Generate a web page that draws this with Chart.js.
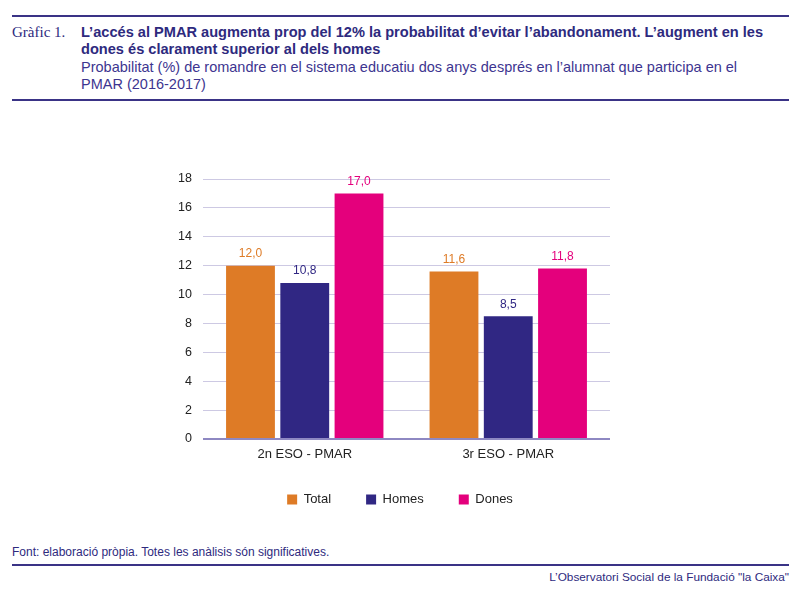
<!DOCTYPE html>
<html>
<head>
<meta charset="utf-8">
<script src="https://cdn.jsdelivr.net/npm/chart.js@4"></script>
<style>
  body { margin: 0; background: #fff; width: 800px; height: 591px; overflow: hidden; position: relative; font-family: "Liberation Sans", Arial, sans-serif; }
  .rule { position: absolute; left: 12px; width: 777px; height: 2px; background: #3a3386; }
  .txt { position: absolute; white-space: nowrap; color: #2e2a7e; }
  #box { position: absolute; left: 0; top: 110px; width: 800px; height: 406px; }
</style>
</head>
<body>
<div class="rule" style="top:15px"></div>
<div class="txt" style="left:12px; top:24px; font-family:'Liberation Serif',serif; font-size:15px;">Gràfic 1.</div>
<div class="txt" style="left:81px; top:24px; font-size:14.6px; font-weight:bold; line-height:17px;">L’accés al PMAR augmenta prop del 12% la probabilitat d’evitar l’abandonament. L’augment en les<br>dones és clarament superior al dels homes</div>
<div class="txt" style="left:81px; top:59px; font-size:14.5px; line-height:17px; color:#3d3590;">Probabilitat (%) de romandre en el sistema educatiu dos anys després en l’alumnat que participa en el<br>PMAR (2016-2017)</div>
<div class="rule" style="top:99px"></div>

<div id="box"><canvas id="chart"></canvas></div>

<div class="txt" style="left:12px; top:545px; font-size:12px;">Font: elaboració pròpia. Totes les anàlisis són significatives.</div>
<div class="rule" style="top:564px"></div>
<div class="txt" style="right:11px; top:570px; font-size:11.8px;">L’Observatori Social de la Fundació "la Caixa"</div>

<script>
const categories = ["2n ESO - PMAR", "3r ESO - PMAR"]
const total = [12.0, 11.6]
const homes = [10.8, 8.5]
const dones = [17.0, 11.8]
const yTicks = [0, 2, 4, 6, 8, 10, 12, 14, 16, 18]

const colors = { total: "#de7b26", homes: "#302783", dones: "#e4007c" }
const font = "'Liberation Sans', Arial, sans-serif"

// value labels above the bars, comma decimal
const valueLabels = {
    id: "valueLabels",
    afterDatasetsDraw(chart) {
        const ctx = chart.ctx
        ctx.save()
        ctx.font = "12px " + font
        ctx.textAlign = "center"
        ctx.textBaseline = "bottom"
        chart.data.datasets.forEach((ds, i) => {
            chart.getDatasetMeta(i).data.forEach((bar, j) => {
                ctx.fillStyle = ds.backgroundColor
                ctx.fillText(ds.data[j].toFixed(1).replace(".", ","), bar.x, bar.y - 6)
            })
        })
        ctx.restore()
    }
}

new Chart("chart", {
    type: "bar",
    data: {
        labels: categories,
        datasets: [
            { label: "Total", data: total, backgroundColor: colors.total },
            { label: "Homes", data: homes, backgroundColor: colors.homes },
            { label: "Dones", data: dones, backgroundColor: colors.dones }
        ]
    },
    options: {
        responsive: true,
        maintainAspectRatio: false,
        animation: false,
        datasets: { bar: { categoryPercentage: 0.8, barPercentage: 0.9 } },
        layout: { padding: { left: 0, right: 0, top: 69, bottom: 0 } },
        plugins: {
            tooltip: { enabled: false },
            legend: {
                position: "bottom",
                labels: {
                    boxWidth: 10, boxHeight: 10, padding: 35,
                    color: "#222",
                    font: { family: font, size: 13 }
                }
            }
        },
        scales: {
            x: {
                grid: { display: false, drawTicks: false },
                border: { display: false },
                afterFit: s => { s.height = 19 },
                ticks: { color: "#222", padding: 8, font: { family: font, size: 13 } }
            },
            y: {
                min: 0, max: 18,
                afterBuildTicks: s => { s.ticks = yTicks.map(v => ({ value: v })) },
                afterFit: s => { s.width = 203 },
                border: { display: false },
                grid: {
                    drawTicks: false,
                    color: c => c.tick && c.tick.value === 0 ? "#8e88c2" : "#cdc9e3",
                    lineWidth: c => c.tick && c.tick.value === 0 ? 2 : 1
                },
                ticks: { color: "#222", padding: 11, font: { family: font, size: 12.5 } }
            },
            // empty right axis, only reserves the right margin
            yRight: {
                position: "right",
                min: 0, max: 18,
                afterFit: s => { s.width = 190 },
                border: { display: false },
                grid: { display: false, drawTicks: false },
                ticks: { display: false }
            }
        }
    },
    plugins: [valueLabels]
})
</script>
</body>
</html>
